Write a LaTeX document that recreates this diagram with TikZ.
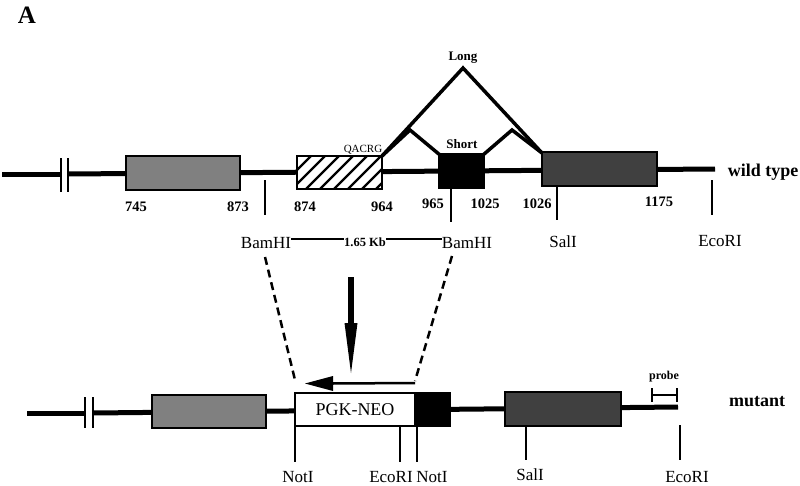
\documentclass[tikz,border=0pt]{standalone}
\usepackage{fontspec}
\setmainfont{Liberation Serif}
\begin{document}
\begin{tikzpicture}[x=1pt,y=-1pt,
  dna/.style={line width=5pt},
  brk/.style={line width=2.5pt},
  exon/.style={draw=black,line width=2.5pt,inner sep=0pt,outer sep=0pt,rectangle},
  site/.style={line width=2.8pt},
  splice/.style={line width=3.5pt,line join=miter},
  enz/.style={font=\fontsize{17}{17}\selectfont,anchor=base,inner sep=0pt},
  num/.style={font=\bfseries\fontsize{14.5}{14.5}\selectfont,anchor=base,inner sep=0pt},
  big/.style={font=\bfseries\fontsize{18}{18}\selectfont,anchor=base,inner sep=0pt},
  small/.style={font=\bfseries\fontsize{13}{13}\selectfont,anchor=base,inner sep=0pt},
  dsh/.style={line width=2.5pt,dash pattern=on 8pt off 5pt}
]
\definecolor{midgray}{gray}{0.5}
\definecolor{darkgr}{gray}{0.25}
\useasboundingbox (0,0) rectangle (800,485);

\node[font=\bfseries\fontsize{25}{25}\selectfont,anchor=base,inner sep=0pt] (lblA) at (27,23) {A};

% ---------- wild type ----------
\draw[dna] (2,174) -- (61,174);
\draw[dna] (68,174) -- (715,169);
\draw[brk] (61,158) -- (61,192);
\draw[brk] (68,158) -- (68,192);

\node[exon,fill=midgray,minimum width=114pt,minimum height=34pt] (w1) at (183,173) {};
\node[exon,fill=white,minimum width=85pt,minimum height=33pt] (hx) at (339.5,172.5) {};
\begin{scope}
  \clip (hx.south west) rectangle (hx.north east);
  \foreach \i in {263,277,...,385} \draw[line width=2.2pt] (\i,190) -- ++(34,-34);
\end{scope}
\node[exon,minimum width=85pt,minimum height=33pt] (hxb) at (339.5,172.5) {};
\node[exon,fill=black,minimum width=45pt,minimum height=34pt] (sh) at (461.5,171) {};
\node[exon,fill=darkgr,minimum width=115pt,minimum height=34pt] (w3) at (599.5,169) {};

% splicing
\coordinate (hcorner) at (382,156);
\coordinate (lapex) at (463,68);
\coordinate (dcorner) at (542,153);
\coordinate (sp1) at (410,130);
\coordinate (sp2) at (512,130);
\draw[splice] (hcorner) -- (lapex) -- (dcorner);
\draw[splice] (hcorner) -- (sp1) -- (440,155);
\draw[splice] (483,155) -- (sp2) -- (dcorner);
\node[small] (long) at (463,60) {Long};
\node[small] (short) at (462,148) {Short};
\node[font=\fontsize{11}{11}\selectfont,anchor=base,inner sep=0pt] (qacrg) at (363,152) {QACRG};

% numbers
\node[num] (n745) at (136,211) {745};
\node[num] (n873) at (238,211) {873};
\node[num] (n874) at (305,211) {874};
\node[num] (n964) at (382,211) {964};
\node[num] (n965) at (433,208) {965};
\node[num] (n1025) at (485,208) {1025};
\node[num] (n1026) at (537,208) {1026};
\node[num] (n1175) at (659,206) {1175};

% sites
\draw[site] (265,180) -- (265,215);
\draw[site] (451,188) -- (451,222);
\draw[site] (557,186) -- (557,220);
\draw[site] (712,180) -- (712,215);

\node[enz] (bam1) at (266,248) {BamHI};
\node[enz] (bam2) at (467,248) {BamHI};
\node[font=\bfseries\fontsize{12.5}{12.5}\selectfont,anchor=base,inner sep=0pt] (kb) at (365,246) {1.65 Kb};
\draw[line width=2pt] (bam1.east |- 0,239) -- (kb.west |- 0,239);
\draw[line width=2pt] (kb.east |- 0,239) -- (bam2.west |- 0,239);
\node[enz] (sal1) at (563,247) {SalI};
\node[enz] (eco1) at (720,246) {EcoRI};
\node[big] (wt) at (763,176) {wild type};

% ---------- transition ----------
\draw[dsh] (265,257) -- (295,380);
\draw[dsh] (452,256) -- (415,381);
\fill (348,277) rectangle (354,324);
\fill (344.5,323) -- (357.5,323) -- (351,373) -- cycle;
\draw[line width=2.5pt] (415,383) -- (332,383.5);
\fill (333,376) -- (333,391) -- (305,383.5) -- cycle;

% ---------- mutant ----------
\draw[dna] (27,413) -- (85,413);
\draw[dna] (93,413) -- (678,407);
\draw[brk] (85,397) -- (85,428);
\draw[brk] (93,397) -- (93,428);

\node[exon,fill=midgray,minimum width=114pt,minimum height=33pt] (m1) at (209,411.5) {};
\node[exon,fill=white,minimum width=120pt,minimum height=33pt,font=\fontsize{18}{18}\selectfont] (neo) at (355,409.5) {PGK-NEO};
\node[exon,fill=black,minimum width=35pt,minimum height=33pt] (mb) at (432.5,409.5) {};
\node[exon,fill=darkgr,minimum width=116pt,minimum height=34pt] (m3) at (563,409) {};

\draw[site] (295,426) -- (295,462);
\draw[site] (400,426) -- (400,462);
\draw[site] (417,426) -- (417,462);
\draw[site] (526,426) -- (526,460);
\draw[site] (680,425) -- (680,460);

\node[enz] (not1) at (298,482) {NotI};
\node[enz] (eco2) at (391,482) {EcoRI};
\node[enz] (not2) at (432,482) {NotI};
\node[enz] (sal2) at (530,480) {SalI};
\node[enz] (eco3) at (687,482) {EcoRI};

\draw[line width=2.5pt] (652,395) -- (677,395);
\draw[line width=2.5pt] (652,388) -- (652,402);
\draw[line width=2.5pt] (677,388) -- (677,402);
\node[font=\bfseries\fontsize{12}{12}\selectfont,anchor=base,inner sep=0pt] (probe) at (664,379) {probe};
\node[big] (mut) at (757,406) {mutant};
\end{tikzpicture}
\end{document}
